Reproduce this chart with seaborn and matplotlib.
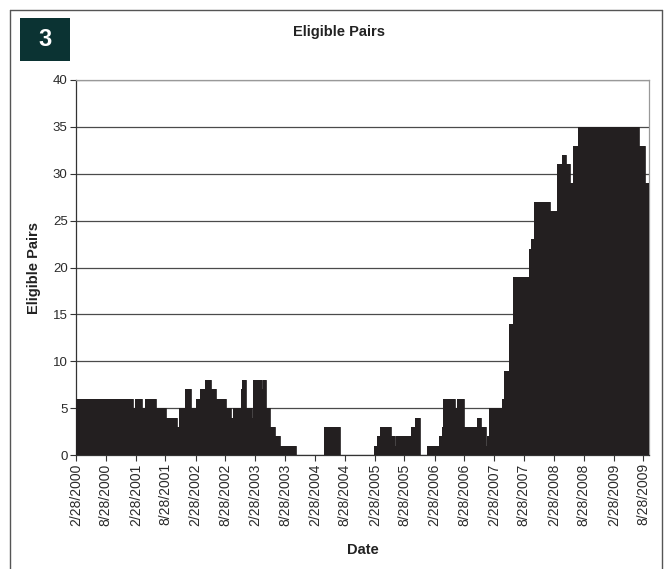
import pandas as pd
import matplotlib
matplotlib.use('Agg')
import matplotlib.pyplot as plt
from matplotlib.patches import Rectangle
from matplotlib.lines import Line2D
import seaborn as sns

# step changes of the number of eligible pairs (date the level starts, level)
change_dates = [
    "2000-02-28", "2001-02-09", "2001-02-24", "2001-04-05", "2001-04-25", "2001-07-03", "2001-09-02",
    "2001-11-07", "2001-11-21", "2001-12-23", "2002-02-03", "2002-03-05", "2002-03-30", "2002-04-27",
    "2002-05-31", "2002-06-30", "2002-08-30", "2002-10-03", "2002-10-17", "2002-11-30", "2002-12-07",
    "2002-12-31", "2003-02-08", "2003-02-14", "2003-04-08", "2003-04-15", "2003-05-05", "2003-06-01",
    "2003-06-29", "2003-07-29", "2003-11-05", "2004-04-24", "2004-07-31", "2005-02-22", "2005-03-15",
    "2005-04-02", "2005-06-07", "2005-07-04", "2005-07-10", "2005-10-08", "2005-10-31", "2005-12-04",
    "2006-01-10", "2006-03-26", "2006-04-14", "2006-04-23", "2006-07-05", "2006-07-16", "2006-08-30",
    "2006-11-12", "2006-12-06", "2007-01-06", "2007-01-17", "2007-01-26", "2007-04-17", "2007-04-27",
    "2007-05-27", "2007-06-24", "2007-09-29", "2007-10-08", "2007-10-28", "2008-02-04", "2008-03-19",
    "2008-04-19", "2008-05-09", "2008-06-05", "2008-06-26", "2008-07-24", "2009-07-31", "2009-09-05",
    "2009-10-01"]
pairs = [
    6, 5, 6, 5, 6, 5, 4,
    3, 5, 7, 5, 6, 7, 8,
    7, 6, 5, 4, 5, 7, 8,
    5, 4, 8, 7, 8, 5, 3,
    2, 1, 0, 3, 0, 1, 2,
    3, 2, 1, 2, 3, 4, 0,
    1, 2, 3, 6, 5, 6, 3,
    4, 3, 1, 2, 5, 6, 9,
    14, 19, 22, 23, 27, 26, 31,
    32, 31, 29, 33, 35, 33, 29,
    29]

tick_labels = ['2/28/2000', '8/28/2000', '2/28/2001', '8/28/2001', '2/28/2002', '8/28/2002',
               '2/28/2003', '8/28/2003', '2/28/2004', '8/28/2004', '2/28/2005', '8/28/2005',
               '2/28/2006', '8/28/2006', '2/28/2007', '8/28/2007', '2/28/2008', '8/28/2008',
               '2/28/2009', '8/28/2009']

df = pd.DataFrame({'Date': pd.to_datetime(change_dates), 'Eligible Pairs': pairs})

sns.set_style('white')
plt.rcParams['font.family'] = ['Liberation Sans', 'DejaVu Sans']

fig = plt.figure(figsize=(6.65, 5.69), dpi=100)
W, H = 665, 569
ax = fig.add_axes([76 / W, 1 - 455 / H, 573 / W, 375 / H])

dark = '#231f20'
ax.fill_between(df['Date'], df['Eligible Pairs'], step='post', color=dark, linewidth=0, zorder=3)
sns.lineplot(data=df, x='Date', y='Eligible Pairs', drawstyle='steps-post', color=dark,
             linewidth=0.6, ax=ax, zorder=3)

# axes
ax.set_ylim(0, 40)
ax.set_yticks(range(0, 41, 5))
ax.set_xlim(df['Date'].iloc[0], df['Date'].iloc[-1])
ticks = pd.to_datetime(tick_labels, format='%m/%d/%Y')
ax.set_xticks(ticks)
ax.set_xticklabels(tick_labels, rotation=90, fontsize=10, color='#2a2a2a')
ax.tick_params(axis='y', labelsize=9.5, labelcolor='#2a2a2a')
ax.tick_params(axis='both', direction='out', length=4, width=0.8, color='#333333', pad=2)
ax.tick_params(axis='x', bottom=True)
ax.tick_params(axis='y', left=True)

ax.yaxis.grid(True, color='#4a4a4a', linewidth=0.9, zorder=1)
ax.xaxis.grid(False)
ax.set_axisbelow(True)
for side in ['left', 'bottom']:
    ax.spines[side].set_color('#333333')
    ax.spines[side].set_linewidth(0.9)
for side in ['top', 'right']:
    ax.spines[side].set_color('#999999')
    ax.spines[side].set_linewidth(0.9)

ax.set_ylabel('Eligible Pairs', fontsize=10.5, fontweight='bold', color='#222222')
ax.set_xlabel('Date', fontsize=10.5, fontweight='bold', color='#222222')
ax.yaxis.set_label_coords((41 - 76) / 573, 0.5)
ax.xaxis.set_label_coords(0.5, -(543 - 455) / 375)

# title and panel number
fig.text(339 / W, 1 - 32 / H, 'Eligible Pairs', ha='center', va='center',
         fontsize=10.5, fontweight='bold', color='#222222')
fig.add_artist(Rectangle((20 / W, 1 - 61 / H), 50 / W, 43 / H, transform=fig.transFigure,
                         facecolor='#0b3333', edgecolor='none'))
fig.text(45 / W, 1 - 40 / H, '3', ha='center', va='center', fontsize=17,
         fontweight='bold', color='white')

# outer frame
for xs, ys in [([10, 662], [10, 10]), ([10, 10], [10, 569]), ([662, 662], [10, 569])]:
    fig.add_artist(Line2D([x / W for x in xs], [1 - y / H for y in ys], transform=fig.transFigure,
                          color='#555555', linewidth=1.0))

fig.savefig('out.png', dpi=100)
